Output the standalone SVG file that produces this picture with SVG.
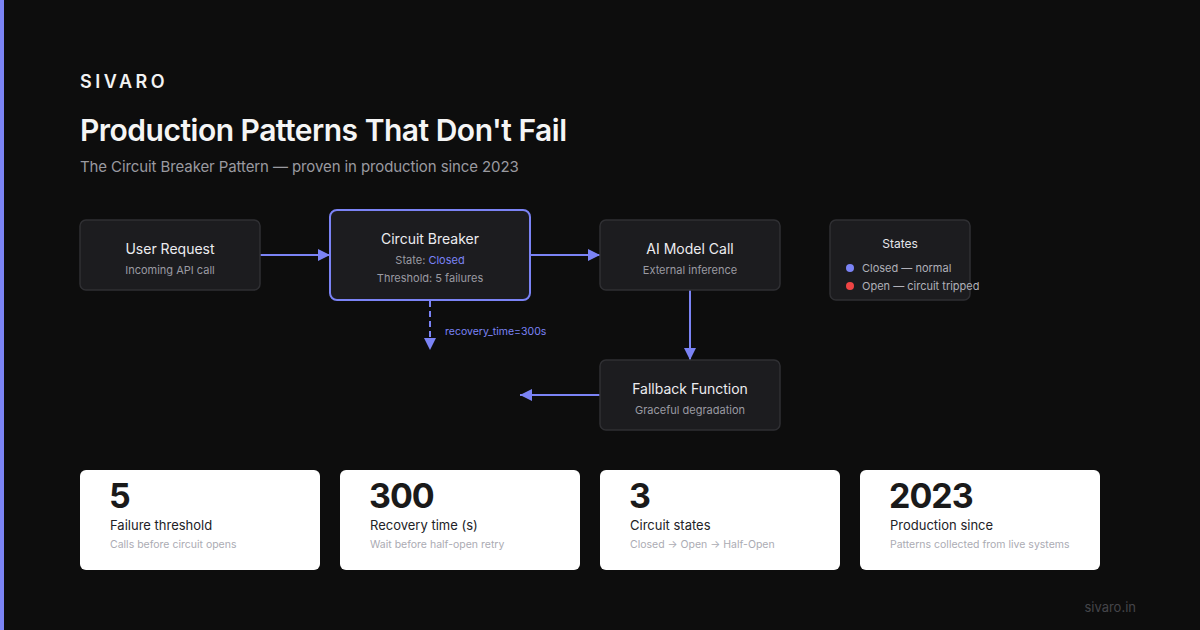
<svg xmlns="http://www.w3.org/2000/svg" width="1200" height="630" viewBox="0 0 1200 630">
<style>
text{font-family:Inter,"Liberation Sans",sans-serif}
.node{fill:#1c1c1f;stroke:#2f2f33;stroke-width:1.5}
.ttl{fill:#ececf0;font-size:14px;text-anchor:middle}
.sub{fill:#9a9aa2;font-size:11px;text-anchor:middle}
.conn{stroke:#7b83f5;stroke-width:2;fill:none}
.card{fill:#ffffff}
.num{fill:#1a1a1a;font-size:34px;font-weight:700;letter-spacing:-1px}
.lbl{fill:#222226;font-size:13px}
.csub{fill:#ababb3;font-size:10.5px}
.leg{fill:#b0b0b8;font-size:11px}
</style>
<defs>
<marker id="ah" viewBox="0 0 12 12" refX="12" refY="6" markerWidth="12" markerHeight="12" markerUnits="userSpaceOnUse" orient="auto">
<path d="M0,0 L12,6 L0,12 Z" fill="#7b83f5"/>
</marker>
</defs>
<rect width="1200" height="630" fill="#0d0d0d"/>
<rect x="0" y="0" width="4" height="630" fill="#7b83f5"/>
<text x="80" y="88" fill="#f2f2f2" font-size="18" font-weight="600" letter-spacing="3.5">SIVARO</text>
<text x="80" y="141" fill="#f5f5f5" font-size="30" font-weight="600" letter-spacing="-0.5">Production Patterns That Don't Fail</text>
<text x="80" y="172" fill="#9a9aa0" font-size="15" letter-spacing="-0.1">The Circuit Breaker Pattern — proven in production since 2023</text>

<g id="connectors">
<line class="conn" x1="260" y1="255" x2="330" y2="255" marker-end="url(#ah)"/>
<line class="conn" x1="530" y1="255" x2="600" y2="255" marker-end="url(#ah)"/>
<line class="conn" x1="690" y1="290" x2="690" y2="360" marker-end="url(#ah)"/>
<line class="conn" x1="600" y1="395" x2="520" y2="395" marker-end="url(#ah)"/>
<line class="conn" x1="430" y1="301" x2="430" y2="350" stroke-dasharray="6,4" marker-end="url(#ah)"/>
<text x="445" y="335" fill="#7b83f5" font-size="10.5">recovery_time=300s</text>
</g>

<g id="user-request">
<rect class="node" x="80" y="220" width="180" height="70" rx="6"/>
<text class="ttl" x="170" y="254">User Request</text>
<text class="sub" x="170" y="274">Incoming API call</text>
</g>
<g id="circuit-breaker">
<rect x="330" y="210" width="200" height="90" rx="7" fill="#1c1c1f" stroke="#7b83f5" stroke-width="2"/>
<text class="ttl" x="430" y="244">Circuit Breaker</text>
<text class="sub" x="430" y="264">State: <tspan fill="#7b83f5">Closed</tspan></text>
<text class="sub" x="430" y="282">Threshold: 5 failures</text>
</g>
<g id="ai-model-call">
<rect class="node" x="600" y="220" width="180" height="70" rx="6"/>
<text class="ttl" x="690" y="254">AI Model Call</text>
<text class="sub" x="690" y="274">External inference</text>
</g>
<g id="fallback-function">
<rect class="node" x="600" y="360" width="180" height="70" rx="6"/>
<text class="ttl" x="690" y="394">Fallback Function</text>
<text class="sub" x="690" y="414">Graceful degradation</text>
</g>
<g id="legend">
<rect class="node" x="830" y="220" width="140" height="80" rx="6"/>
<text x="900" y="248" fill="#e6e6ea" font-size="12" text-anchor="middle">States</text>
<circle cx="850" cy="268" r="4" fill="#7b83f5"/>
<text class="leg" x="862" y="272">Closed — normal</text>
<circle cx="850" cy="286" r="4" fill="#ef4444"/>
<text class="leg" x="862" y="290">Open — circuit tripped</text>
</g>

<g id="stat-1">
<rect class="card" x="80" y="470" width="240" height="100" rx="6"/>
<text class="num" x="109" y="508">5</text>
<text class="lbl" x="110" y="530">Failure threshold</text>
<text class="csub" x="110" y="548">Calls before circuit opens</text>
</g>
<g id="stat-2">
<rect class="card" x="340" y="470" width="240" height="100" rx="6"/>
<text class="num" x="369" y="508">300</text>
<text class="lbl" x="370" y="530">Recovery time (s)</text>
<text class="csub" x="370" y="548">Wait before half-open retry</text>
</g>
<g id="stat-3">
<rect class="card" x="600" y="470" width="240" height="100" rx="6"/>
<text class="num" x="629" y="508">3</text>
<text class="lbl" x="630" y="530">Circuit states</text>
<text class="csub" x="630" y="548">Closed → Open → Half-Open</text>
</g>
<g id="stat-4">
<rect class="card" x="860" y="470" width="240" height="100" rx="6"/>
<text class="num" x="889" y="508">2023</text>
<text class="lbl" x="890" y="530">Production since</text>
<text class="csub" x="890" y="548">Patterns collected from live systems</text>
</g>
<text x="1136" y="612" fill="#45454a" font-size="13" text-anchor="end">sivaro.in</text>
</svg>
